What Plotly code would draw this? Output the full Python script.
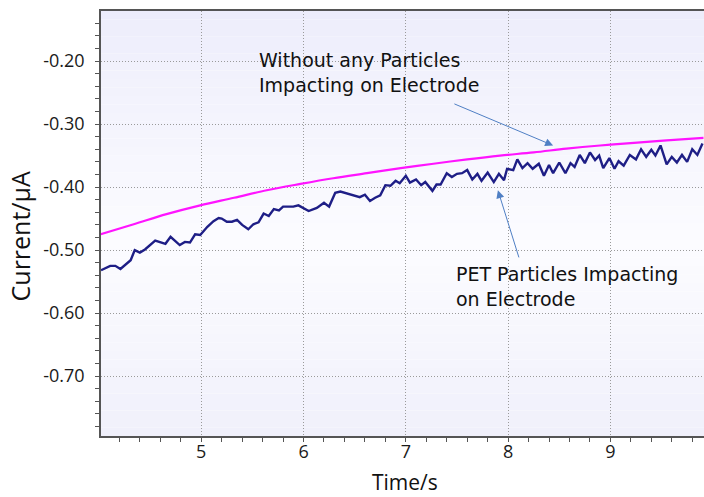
import plotly.graph_objects as go

# Chronoamperometry: current response with and without PET particle impacts
time_blank = [4.01, 4.34, 4.66, 4.99, 5.32, 5.64, 5.97, 6.29, 6.62, 6.95,
              7.27, 7.60, 7.92, 8.25, 8.57, 8.90, 9.23, 9.55, 9.91]
current_blank = [-0.475, -0.459, -0.443, -0.429, -0.417, -0.405, -0.395, -0.386,
                 -0.378, -0.370, -0.363, -0.356, -0.350, -0.345, -0.339, -0.334,
                 -0.330, -0.326, -0.322]

time_pet = [4.02, 4.11, 4.16, 4.21, 4.31, 4.35, 4.40, 4.45, 4.55, 4.60,
            4.65, 4.70, 4.79, 4.84, 4.89, 4.94, 4.99, 5.06, 5.12, 5.17,
            5.20, 5.25, 5.30, 5.35, 5.40, 5.46, 5.51, 5.56, 5.61, 5.66,
            5.71, 5.76, 5.80, 5.85, 5.90, 5.95, 6.01, 6.05, 6.13, 6.20,
            6.25, 6.31, 6.36, 6.42, 6.49, 6.55, 6.60, 6.65, 6.70, 6.75,
            6.80, 6.85, 6.90, 6.94, 7.00, 7.04, 7.10, 7.15, 7.19, 7.26,
            7.30, 7.34, 7.40, 7.45, 7.50, 7.55, 7.60, 7.65, 7.70, 7.74,
            7.80, 7.86, 7.91, 7.96, 7.99, 8.05, 8.09, 8.14, 8.19, 8.24,
            8.30, 8.35, 8.40, 8.44, 8.50, 8.56, 8.61, 8.65, 8.70, 8.75,
            8.80, 8.85, 8.89, 8.93, 8.99, 9.04, 9.08, 9.13, 9.19, 9.25,
            9.30, 9.35, 9.40, 9.44, 9.49, 9.55, 9.60, 9.65, 9.70, 9.75,
            9.80, 9.85, 9.90]
current_pet = [-0.532, -0.525, -0.525, -0.530, -0.516, -0.500, -0.504, -0.499, -0.485, -0.487,
               -0.490, -0.479, -0.492, -0.487, -0.488, -0.475, -0.476, -0.463, -0.454, -0.449,
               -0.450, -0.455, -0.455, -0.452, -0.460, -0.467, -0.459, -0.456, -0.442, -0.446,
               -0.435, -0.437, -0.431, -0.431, -0.431, -0.429, -0.434, -0.438, -0.433, -0.425,
               -0.431, -0.409, -0.407, -0.410, -0.414, -0.416, -0.412, -0.422, -0.417, -0.413,
               -0.397, -0.398, -0.390, -0.394, -0.382, -0.393, -0.388, -0.397, -0.392, -0.406,
               -0.396, -0.396, -0.378, -0.384, -0.379, -0.378, -0.373, -0.388, -0.379, -0.390,
               -0.377, -0.392, -0.379, -0.389, -0.371, -0.373, -0.356, -0.370, -0.362, -0.371,
               -0.363, -0.382, -0.365, -0.378, -0.361, -0.378, -0.362, -0.368, -0.349, -0.362,
               -0.345, -0.357, -0.350, -0.370, -0.354, -0.371, -0.359, -0.366, -0.349, -0.356,
               -0.340, -0.352, -0.341, -0.350, -0.334, -0.364, -0.352, -0.361, -0.349, -0.360,
               -0.340, -0.349, -0.331]

x_ticks = [5, 6, 7, 8, 9]
y_ticks = [-0.70, -0.60, -0.50, -0.40, -0.30, -0.20]
y_labels = [f"{v:.2f}" for v in y_ticks]
x_labels = [str(v) for v in x_ticks]

fig = go.Figure()

fig.add_trace(go.Scatter(x=time_blank, y=current_blank, mode="lines",
                         line=dict(color="#ff14ff", width=2.2, shape="spline"),
                         showlegend=False))
fig.add_trace(go.Scatter(x=time_pet, y=current_pet, mode="lines",
                         line=dict(color="#1e1e86", width=2.4),
                         showlegend=False))

# soft lavender vertical gradient behind the plot area
def band_color(t):
    top = (237, 237, 251)
    mid = (252, 252, 255)
    bot = (240, 240, 251)
    if t > 0.45:
        f = (t - 0.45) / 0.55
        a, b = mid, top
    else:
        f = (0.45 - t) / 0.45
        a, b = mid, bot
    c = [round(a[i] + (b[i] - a[i]) * f) for i in range(3)]
    return f"rgb({c[0]},{c[1]},{c[2]})"

n_bands = 50
shapes = []
for i in range(n_bands):
    y0 = i / n_bands
    y1 = (i + 1) / n_bands
    shapes.append(dict(type="rect", xref="paper", yref="paper", x0=0, x1=1,
                       y0=y0, y1=y1, fillcolor=band_color((y0 + y1) / 2),
                       line=dict(width=0), layer="below"))

tick_font = dict(family="Open Sans", size=18, color="#1a1a1a")
note_font = dict(family="DejaVu Sans", size=19, color="#111111")
grid_style = dict(showgrid=True, gridcolor="#9a9a9a", griddash="1px,2px", gridwidth=1)

fig.update_layout(
    width=704, height=497,
    margin=dict(l=101, r=0, t=11, b=61),
    paper_bgcolor="white",
    plot_bgcolor="white",
    shapes=shapes,
    xaxis=dict(range=[4.02, 9.915], tickmode="array", tickvals=x_ticks, ticktext=x_labels,
               ticks="outside", ticklen=4, tickcolor="#555555", tickfont=tick_font,
               showline=True, linecolor="#555555", linewidth=1.5, mirror=True,
               zeroline=False, ticklabelstandoff=-5, **grid_style,
               minor=dict(tickmode="linear", tick0=0, dtick=0.2, ticks="outside",
                          ticklen=4, tickcolor="#555555", showgrid=False)),
    yaxis=dict(range=[-0.795, -0.1206], tickmode="array", tickvals=y_ticks, ticktext=y_labels,
               ticks="outside", ticklen=4, tickcolor="#555555", tickfont=tick_font,
               showline=True, linecolor="#555555", linewidth=1.5, mirror=False,
               zeroline=False, ticklabelstandoff=7, **grid_style,
               minor=dict(tickmode="linear", tick0=0, dtick=0.02, ticks="outside",
                          ticklen=4, tickcolor="#555555", showgrid=False)),
    annotations=[
        dict(text="Current/μA", xref="paper", yref="paper", x=-0.134, y=0.47,
             textangle=-90, showarrow=False, xanchor="center", yanchor="middle",
             font=dict(family="Open Sans", size=25, color="#111111")),
        dict(text="Time/s", xref="paper", yref="paper", x=0.504, y=-0.108,
             showarrow=False, xanchor="center", yanchor="middle",
             font=dict(family="Open Sans", size=21, color="#111111")),
        dict(text="Without any Particles<br>Impacting on Electrode", xref="paper", yref="paper",
             x=0.2587, y=0.915, xanchor="left", yanchor="top", align="left",
             showarrow=False, font=note_font),
        dict(text="PET Particles Impacting<br>on Electrode", xref="paper", yref="paper",
             x=0.585, y=0.412, xanchor="left", yanchor="top", align="left",
             showarrow=False, font=note_font),
        dict(text="", x=8.44, y=-0.334, ax=7.46, ay=-0.267, xref="x", yref="y",
             axref="x", ayref="y", showarrow=True, arrowhead=2, arrowsize=1.6,
             arrowwidth=1, arrowcolor="#4f7fc4"),
        dict(text="", x=7.90, y=-0.405, ax=8.11, ay=-0.514, xref="x", yref="y",
             axref="x", ayref="y", showarrow=True, arrowhead=2, arrowsize=1.6,
             arrowwidth=1, arrowcolor="#4f7fc4"),
    ],
)

fig.write_html("out.html")
